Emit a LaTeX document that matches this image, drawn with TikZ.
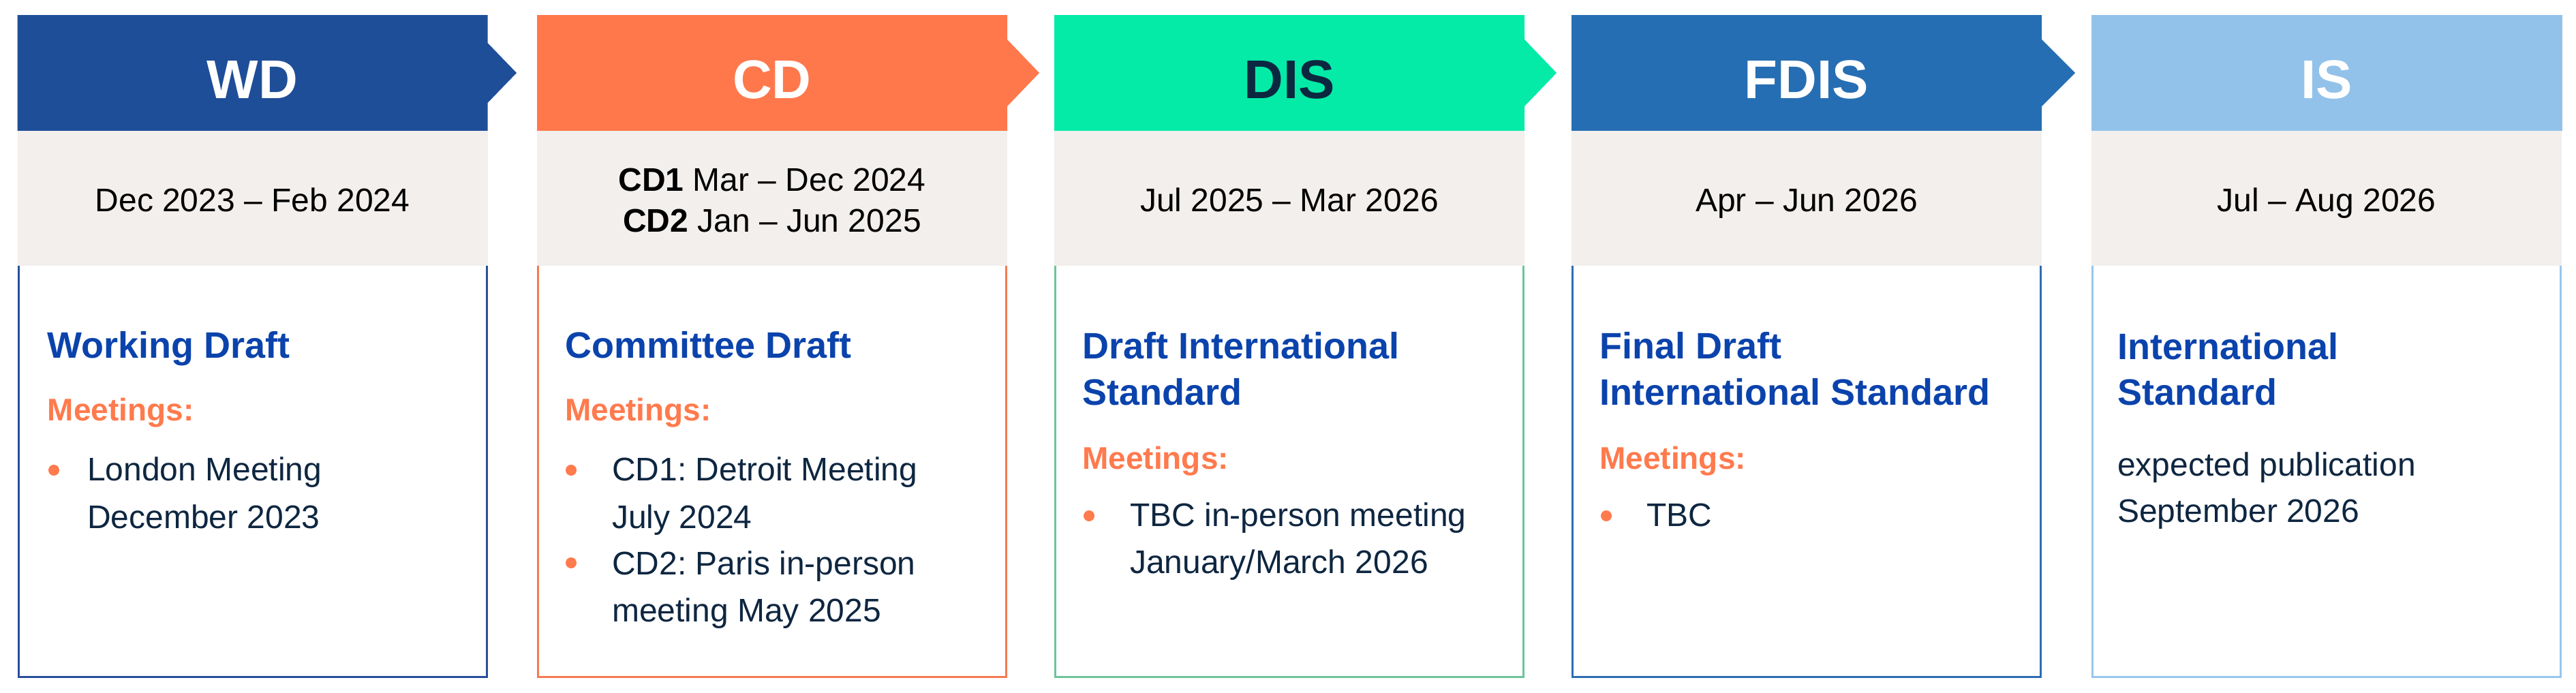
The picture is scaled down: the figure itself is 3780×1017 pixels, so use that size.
\documentclass[tikz,border=0pt]{standalone}
\usepackage{fontspec}
\setmainfont{Liberation Sans}
\frenchspacing
\definecolor{cwd}{HTML}{1F4E99}
\definecolor{ccd}{HTML}{FF784C}
\definecolor{cdis}{HTML}{04EBA7}
\definecolor{cfdis}{HTML}{266EB3}
\definecolor{cis}{HTML}{92C2EA}
\definecolor{bwd}{HTML}{2A4F9A}
\definecolor{bcd}{HTML}{F47B52}
\definecolor{bdis}{HTML}{6DC49A}
\definecolor{bfdis}{HTML}{2E6DB2}
\definecolor{bis}{HTML}{99C5EE}
\definecolor{bandgray}{HTML}{F2EFEC}
\definecolor{ttlblue}{HTML}{0B43AC}
\definecolor{meetor}{HTML}{FF7A4D}
\definecolor{bodytxt}{HTML}{0E2640}
\definecolor{distxt}{HTML}{0C2840}
\tikzset{
  hdr/.style={font=\fontsize{80}{80}\selectfont\bfseries, anchor=base, inner sep=0pt, text=white},
  datetxt/.style={font=\fontsize{48}{48}\selectfont, anchor=base, inner sep=0pt, text=black},
  ttl/.style={font=\fontsize{54}{54}\selectfont\bfseries, anchor=base west, inner sep=0pt, text=ttlblue},
  meet/.style={font=\fontsize{46}{46}\selectfont\bfseries, anchor=base west, inner sep=0pt, text=meetor},
  body/.style={font=\fontsize{48}{48}\selectfont, anchor=base west, inner sep=0pt, text=bodytxt},
  bdot/.style={circle, fill=meetor, minimum size=16pt, inner sep=0pt, draw=none},
  band/.style={fill=bandgray, draw=none},
  frame/.style={line width=3pt},
}
\begin{document}
\begin{tikzpicture}[x=1pt,y=-1pt]
\useasboundingbox[fill=white] (0,0) rectangle (3780,1017);
% headers
\fill[cwd]   (25.5,22) -- (715.5,22) -- (715.5,63) -- (758,107) -- (715.5,151) -- (715.5,192) -- (25.5,192) -- cycle;
\fill[ccd]   (788,22) -- (1478,22) -- (1478,58) -- (1525,107) -- (1478,156) -- (1478,192) -- (788,192) -- cycle;
\fill[cdis]  (1547,22) -- (2237,22) -- (2237,58) -- (2284,107) -- (2237,156) -- (2237,192) -- (1547,192) -- cycle;
\fill[cfdis] (2306,22) -- (2996,22) -- (2996,58) -- (3045,107) -- (2996,156) -- (2996,192) -- (2306,192) -- cycle;
\fill[cis]   (3069,22) rectangle (3760,192);
% date bands
\fill[band] (25.5,192) rectangle (715.5,390);
\fill[band] (788,192) rectangle (1478,390);
\fill[band] (1547,192) rectangle (2237,390);
\fill[band] (2306,192) rectangle (2996,390);
\fill[band] (3069,192) rectangle (3759,390);
% frames
\draw[frame,bwd]   (27,390) -- (27,993.5) -- (714,993.5) -- (714,390);
\draw[frame,bcd]   (789.5,390) -- (789.5,993.5) -- (1476.5,993.5) -- (1476.5,390);
\draw[frame,bdis]  (1548.5,390) -- (1548.5,993.5) -- (2235.5,993.5) -- (2235.5,390);
\draw[frame,bfdis] (2307.5,390) -- (2307.5,993.5) -- (2994.5,993.5) -- (2994.5,390);
\draw[frame,bis]   (3070.5,390) -- (3070.5,993.5) -- (3757.5,993.5) -- (3757.5,390);
% header labels
\node[hdr] (hwd) at (370.5,144) {WD};
\node[hdr] (hcd) at (1133,144) {CD};
\node[hdr,text=distxt] (hdis) at (1892,144) {DIS};
\node[hdr] (hfdis) at (2651,144) {FDIS};
\node[hdr] (his) at (3414,144) {IS};
% dates
\node[datetxt] (dwd) at (370.5,310) {Dec 2023 – Feb 2024};
\node[datetxt] (dcd1) at (1133,280) {\textbf{CD1} Mar – Dec 2024};
\node[datetxt] (dcd2) at (1133,340) {\textbf{CD2} Jan – Jun 2025};
\node[datetxt] (ddis) at (1892,310) {Jul 2025 – Mar 2026};
\node[datetxt] (dfdis) at (2651,310) {Apr – Jun 2026};
\node[datetxt] (dis) at (3414,310) {Jul – Aug 2026};
% WD body
\node[ttl] (twd) at (69.5,525) {Working Draft};
\node[meet] (mwd) at (69.5,617) {Meetings:};
\node[bdot] (bwd1) at (79,690) {};
\node[body] (lwd1) at (128,705) {London Meeting};
\node[body] (lwd2) at (128,775) {December 2023};
% CD body
\node[ttl] (tcd) at (829,525) {Committee Draft};
\node[meet] (mcd) at (829,617) {Meetings:};
\node[bdot] (bcd1) at (838,690) {};
\node[body] (lcd1) at (898,705) {CD1: Detroit Meeting};
\node[body] (lcd2) at (898,775) {July 2024};
\node[bdot] (bcd2) at (838,826) {};
\node[body] (lcd3) at (898,843) {CD2: Paris in-person};
\node[body] (lcd4) at (898,912) {meeting May 2025};
% DIS body
\node[ttl] (tdis1) at (1588,526) {Draft International};
\node[ttl] (tdis2) at (1588,594) {Standard};
\node[meet] (mdis) at (1588,688) {Meetings:};
\node[bdot] (bdis1) at (1598,757) {};
\node[body] (ldis1) at (1658,772) {TBC in-person meeting};
\node[body] (ldis2) at (1658,841) {January/March 2026};
% FDIS body
\node[ttl] (tfdis1) at (2347,526) {Final Draft};
\node[ttl] (tfdis2) at (2347,594) {International Standard};
\node[meet] (mfdis) at (2347,688) {Meetings:};
\node[bdot] (bfdis1) at (2357,757) {};
\node[body] (lfdis1) at (2416,772) {TBC};
% IS body
\node[ttl] (tis1) at (3107,527) {International};
\node[ttl] (tis2) at (3107,594) {Standard};
\node[body] (lis1) at (3107,698) {expected publication};
\node[body] (lis2) at (3107,766) {September 2026};
\end{tikzpicture}
\end{document}
